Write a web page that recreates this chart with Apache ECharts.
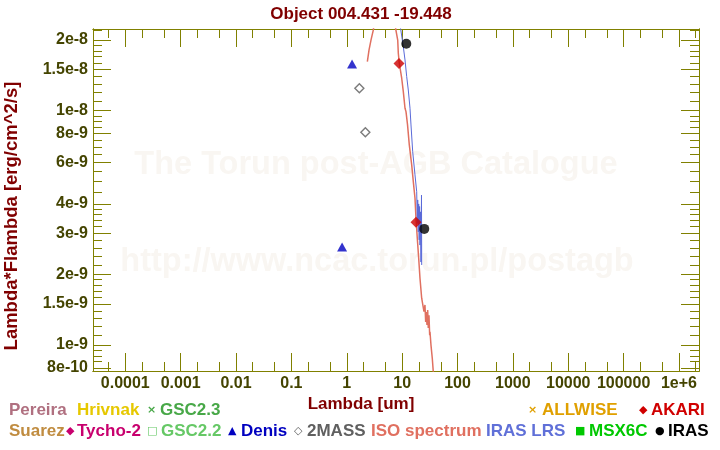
<!DOCTYPE html>
<html><head><meta charset="utf-8">
<script src="https://cdn.jsdelivr.net/npm/echarts@6/dist/echarts.min.js"></script>
<style>html,body{margin:0;padding:0;background:#fff}#c{width:720px;height:450px}</style>
</head><body><div id="c"></div>
<script>
// ---------- data ----------
const titleText = 'Object 004.431 -19.448';
const xAxisName = 'Lambda [um]';
const yAxisName = 'Lambda*Flambda [erg/cm^2/s]';

const xRange = [2.61e-5, 2.3e6];
const yRange = [7.75e-10, 2.23e-8];

const xTickValues = [1e-4, 1e-3, 1e-2, 1e-1, 1, 10, 100, 1e3, 1e4, 1e5, 1e6];
const xTickLabels = ['0.0001', '0.001', '0.01', '0.1', '1', '10', '100', '1000', '10000', '100000', '1e+6'];
const xMinorTicks = [5e-5, 2e-4, 5e-4, 2e-3, 5e-3, 2e-2, 5e-2, 0.2, 0.5, 2, 5, 20, 50, 200, 500, 2e3, 5e3, 2e4, 5e4, 2e5, 5e5, 2e6];

const yTickValues = [8e-10, 1e-9, 1.5e-9, 2e-9, 3e-9, 4e-9, 6e-9, 8e-9, 1e-8, 1.5e-8, 2e-8];
const yTickLabels = ['8e-10', '1e-9', '1.5e-9', '2e-9', '3e-9', '4e-9', '6e-9', '8e-9', '1e-8', '1.5e-8', '2e-8'];
const yMinorTicks = [8.5e-10, 9e-10, 9.5e-10, 1.1e-9, 1.2e-9, 1.3e-9, 1.4e-9, 1.6e-9, 1.7e-9, 1.8e-9, 1.9e-9,
  2.2e-9, 2.4e-9, 2.6e-9, 2.8e-9, 3.2e-9, 3.4e-9, 3.6e-9, 3.8e-9, 4.5e-9, 5e-9, 5.5e-9, 6.5e-9, 7e-9, 7.5e-9,
  8.5e-9, 9e-9, 9.5e-9, 1.1e-8, 1.2e-8, 1.3e-8, 1.4e-8, 1.6e-8, 1.7e-8, 1.8e-8, 1.9e-8, 2.2e-8];

// ISO spectrum
const isoLambda = [2.353, 2.526, 2.744, 3.02, 3.5, 5.0, 6.5, 7.66, 8.32, 8.53, 8.89, 9.82, 10.50, 11.27, 11.74, 12.52,
  13.47, 14.88, 15.91, 17.07, 17.79, 18.78, 19.90, 21.01, 22.55, 24.80, 25.85, 26.62, 27.29, 28.10, 28.93, 29.66,
  30.54, 31.44, 31.84, 33.18, 35.03, 36.51, 40.0];
const isoFlux = [1.618e-8, 1.815e-8, 2.003e-8, 2.21e-8, 3.0e-8, 4.5e-8, 3.2e-8, 2.225e-8, 2.00e-8, 1.758e-8, 1.593e-8,
  1.375e-8, 1.205e-8, 1.024e-8, 0.990e-8, 0.869e-8, 0.714e-8, 0.587e-8, 0.498e-8, 0.423e-8, 0.3475e-8, 0.2855e-8,
  0.2346e-8, 0.1928e-8, 0.1584e-8, 0.1388e-8, 0.1483e-8, 0.1255e-8, 0.1384e-8, 0.1219e-8, 0.1411e-8, 0.1183e-8,
  0.134e-8, 0.1101e-8, 0.114e-8, 1.00e-9, 0.878e-9, 0.77e-9, 0.6e-9];

// IRAS LRS
const lrsLambda = [8.5, 9.42, 10.50, 11.27, 12.09, 12.92, 13.87, 14.45, 15.51, 17.07, 18.32, 18.8, 19.10, 19.57, 19.90,
  20.32, 20.66, 21.01, 21.45, 21.90, 22.36, 22.55];
const lrsFlux = [2.6e-8, 2.225e-8, 1.875e-8, 1.645e-8, 1.397e-8, 1.225e-8, 1.024e-8, 0.869e-8, 0.668e-8, 0.532e-8,
  0.451e-8, 0.33e-8, 0.416e-8, 0.304e-8, 0.40e-8, 0.281e-8, 0.39e-8, 0.267e-8, 0.37e-8, 0.226e-8, 0.436e-8, 0.2196e-8];

const denisLambda = [0.823, 1.246];
const denisFlux = [2.62e-9, 1.58e-8];
const twoMassLambda = [1.688, 2.166];
const twoMassFlux = [1.246e-8, 8.09e-9];
const akariLambda = [8.78, 17.8];
const akariFlux = [1.59e-8, 3.34e-9];
const irasLambda = [11.89, 25.1];
const irasFlux = [1.93e-8, 3.13e-9];

const legendRow1 = [
  {sym: '', label: 'Pereira', color: '#b07080'},
  {sym: '', label: 'Hrivnak', color: '#e6c800'},
  {sym: '×', label: 'GSC2.3', color: '#48a848'},
  {sym: '×', label: 'ALLWISE', color: '#e0a000'},
  {sym: '◆', label: 'AKARI', color: '#d00000'}
];
const legendRow2 = [
  {sym: '', label: 'Suarez', color: '#c08c40'},
  {sym: '◆', label: 'Tycho-2', color: '#c8006e'},
  {sym: '□', label: 'GSC2.2', color: '#66c866'},
  {sym: '▲', label: 'Denis', color: '#0000c0'},
  {sym: '◇', label: '2MASS', color: '#606060'},
  {sym: '', label: 'ISO spectrum', color: '#e07060'},
  {sym: '', label: 'IRAS LRS', color: '#6070d8'},
  {sym: '■', label: 'MSX6C', color: '#00c800'},
  {sym: '●', label: 'IRAS', color: '#000000'}
];

// ---------- build ----------
const L = v => Math.log10(v);
const pts = (xs, ys) => xs.map((x, i) => [L(x), L(ys[i])]);
const AX = '#808000';
const LBL = '#444400';
const FONT = '"Liberation Sans", Arial, sans-serif';

function fmt(vals, labels) {
  return function (v) {
    for (let i = 0; i < vals.length; i++) if (Math.abs(L(vals[i]) - v) < 1e-6) return labels[i];
    return '';
  };
}
function axis(dim, pos, ticks, len, withLabels, vals, labels) {
  const lv = ticks.map(L);
  const a = {
    type: 'value', position: pos,
    min: L(dim === 'x' ? xRange[0] : yRange[0]),
    max: L(dim === 'x' ? xRange[1] : yRange[1]),
    axisLine: {show: true, onZero: false, lineStyle: {color: AX, width: 1}},
    axisTick: {show: true, inside: true, length: len, customValues: lv, lineStyle: {color: AX, width: 1}},
    splitLine: {show: false},
    axisLabel: {show: false}
  };
  if (withLabels) {
    a.axisLabel = {show: true, customValues: lv, formatter: fmt(vals, labels), color: LBL,
      fontSize: 16, fontWeight: 'bold', fontFamily: FONT, margin: 5,
      showMinLabel: true, showMaxLabel: true};
  }
  return a;
}

const xAxis = [
  axis('x', 'bottom', xTickValues, 18, true, xTickValues, xTickLabels),
  axis('x', 'bottom', xMinorTicks, 9, false),
  axis('x', 'top', xTickValues, 18, false),
  axis('x', 'top', xMinorTicks, 9, false)
];
const yAxis = [
  axis('y', 'left', yTickValues, 18, true, yTickValues, yTickLabels),
  axis('y', 'left', yMinorTicks, 9, false),
  axis('y', 'right', yTickValues, 18, false),
  axis('y', 'right', yMinorTicks, 9, false)
];

const graphic = [];
const wmStyle = {fill: '#f9f6f2', font: 'bold 32.5px ' + FONT, align: 'center', verticalAlign: 'middle'};
graphic.push({type: 'text', x: 376, y: 165, z: -10, silent: true, style: Object.assign({text: 'The Torun post-AGB Catalogue'}, wmStyle)});
graphic.push({type: 'text', x: 377, y: 262, z: -10, silent: true, style: Object.assign({text: 'http://www.ncac.torun.pl/postagb'}, wmStyle)});
graphic.push({type: 'text', x: 361, y: 14, style: {text: titleText, fill: '#800000', font: 'bold 17px ' + FONT, align: 'center', verticalAlign: 'middle'}});
graphic.push({type: 'text', x: 361, y: 404, style: {text: xAxisName, fill: '#800000', font: 'bold 17px ' + FONT, align: 'center', verticalAlign: 'middle'}});
graphic.push({type: 'text', x: 12, y: 216, rotation: Math.PI / 2, style: {text: yAxisName, fill: '#800000', font: 'bold 18.5px ' + FONT, align: 'center', verticalAlign: 'middle'}});

function legendRow(items, xs, y) {
  items.forEach((it, i) => {
    let x = xs[i];
    if (it.sym) {
      graphic.push({type: 'text', x: x, y: y, style: {text: it.sym, fill: it.color, font: 'bold 11px "DejaVu Sans", sans-serif', align: 'left', verticalAlign: 'middle'}});
      x += it.symGap;
    }
    graphic.push({type: 'text', x: x, y: y, style: {text: it.label, fill: it.color, font: 'bold 17px ' + FONT, align: 'left', verticalAlign: 'middle'}});
  });
}
legendRow1[2].symGap = 13; legendRow1[3].symGap = 14; legendRow1[4].symGap = 12;
legendRow2[1].symGap = 11; legendRow2[2].symGap = 14; legendRow2[3].symGap = 13; legendRow2[4].symGap = 13;
legendRow2[7].symGap = 14; legendRow2[8].symGap = 13;
legendRow(legendRow1, [9, 77, 147, 528, 639], 410);
legendRow(legendRow2, [9, 66, 147, 228, 294, 371, 486, 575, 655], 431);

const option = {
  animation: false,
  backgroundColor: '#ffffff',
  grid: {left: 93, right: 21, top: 29, bottom: 79, containLabel: false},
  xAxis: xAxis,
  yAxis: yAxis,
  graphic: graphic,
  series: [
    {type: 'line', name: 'ISO spectrum', data: pts(isoLambda, isoFlux), showSymbol: false, symbol: 'none',
      lineStyle: {color: '#e07060', width: 1.5}, z: 2},
    {type: 'line', name: 'IRAS LRS', data: pts(lrsLambda, lrsFlux), showSymbol: false, symbol: 'none',
      lineStyle: {color: '#5a6ad8', width: 1}, z: 3},
    {type: 'scatter', name: 'Denis', data: pts(denisLambda, denisFlux), symbol: 'triangle', symbolSize: [10, 9],
      itemStyle: {color: '#0000c0'}, z: 5},
    {type: 'scatter', name: '2MASS', data: pts(twoMassLambda, twoMassFlux), symbol: 'diamond', symbolSize: 9,
      itemStyle: {color: '#ffffff', borderColor: '#5a5a5a', borderWidth: 1.4}, z: 5},
    {type: 'scatter', name: 'AKARI', data: pts(akariLambda, akariFlux), symbol: 'diamond', symbolSize: 11,
      itemStyle: {color: '#cc0000'}, z: 6},
    {type: 'scatter', name: 'IRAS', data: pts(irasLambda, irasFlux), symbol: 'circle', symbolSize: 10,
      itemStyle: {color: '#000000'}, z: 6}
  ]
};
const chart = echarts.init(document.getElementById('c'), null, {renderer: 'canvas'});
chart.setOption(option);
</script></body></html>
